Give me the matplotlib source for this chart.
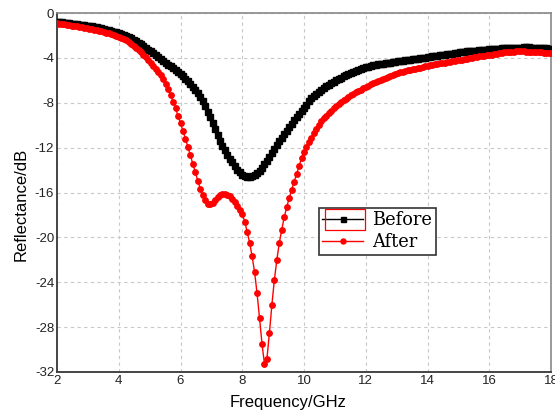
import matplotlib
matplotlib.use("Agg")
import matplotlib.pyplot as plt
from matplotlib.patches import Rectangle
import numpy as np

plt.rcParams['font.family'] = ['Liberation Sans', 'DejaVu Sans']
plt.rcParams['axes.unicode_minus'] = False

# sweep: 2-18 GHz, 201 points
freq = np.linspace(2, 18, 201)

before = [
    -0.80, -0.82, -0.84, -0.86, -0.88, -0.91, -0.94, -0.97, -1.00, -1.03,
    -1.06, -1.09, -1.12, -1.16, -1.20, -1.24, -1.28, -1.33, -1.38, -1.43,
    -1.48, -1.54, -1.60, -1.66, -1.72, -1.79, -1.87, -1.95, -2.04, -2.14,
    -2.25, -2.37, -2.50, -2.64, -2.79, -2.95, -3.10, -3.26, -3.42, -3.58,
    -3.76, -3.94, -4.12, -4.30, -4.45, -4.60, -4.76, -4.93, -5.10, -5.28,
    -5.46, -5.65, -5.85, -6.07, -6.32, -6.58, -6.86, -7.17, -7.50, -7.88,
    -8.32, -8.80, -9.30, -9.82, -10.35, -10.87, -11.37, -11.82, -12.22, -12.62,
    -12.98, -13.32, -13.65, -13.95, -14.20, -14.40, -14.53, -14.60, -14.60, -14.55,
    -14.45, -14.30, -14.08, -13.80, -13.48, -13.15, -12.80, -12.45, -12.10, -11.75,
    -11.45, -11.12, -10.80, -10.48, -10.18, -9.88, -9.58, -9.30, -9.03, -8.77,
    -8.48, -8.17, -7.88, -7.60, -7.38, -7.18, -7.00, -6.83, -6.68, -6.54,
    -6.40, -6.27, -6.14, -6.00, -5.87, -5.75, -5.64, -5.54, -5.44, -5.35,
    -5.26, -5.17, -5.08, -4.99, -4.91, -4.83, -4.77, -4.72, -4.67, -4.63,
    -4.59, -4.56, -4.52, -4.49, -4.46, -4.42, -4.39, -4.36, -4.32, -4.29,
    -4.25, -4.22, -4.18, -4.15, -4.12, -4.09, -4.06, -4.03, -4.00, -3.97,
    -3.94, -3.90, -3.86, -3.83, -3.80, -3.77, -3.74, -3.71, -3.68, -3.65,
    -3.62, -3.58, -3.55, -3.51, -3.48, -3.45, -3.43, -3.41, -3.39, -3.37,
    -3.35, -3.33, -3.31, -3.29, -3.27, -3.25, -3.23, -3.21, -3.19, -3.17,
    -3.15, -3.14, -3.13, -3.12, -3.11, -3.10, -3.09, -3.08, -3.08, -3.07,
    -3.07, -3.07, -3.08, -3.08, -3.09, -3.10, -3.11, -3.13, -3.15, -3.17,
    -3.19,
]

after = [
    -0.92, -0.95, -0.99, -1.02, -1.06, -1.09, -1.13, -1.17, -1.20, -1.24,
    -1.28, -1.32, -1.36, -1.40, -1.45, -1.50, -1.54, -1.58, -1.63, -1.68,
    -1.74, -1.80, -1.87, -1.94, -2.02, -2.11, -2.21, -2.32, -2.44, -2.58,
    -2.73, -2.90, -3.08, -3.28, -3.49, -3.71, -3.94, -4.18, -4.43, -4.69,
    -4.96, -5.25, -5.56, -5.90, -6.30, -6.78, -7.32, -7.90, -8.50, -9.15,
    -9.82, -10.50, -11.20, -11.95, -12.70, -13.45, -14.20, -14.95, -15.65, -16.25,
    -16.70, -17.00, -17.05, -16.90, -16.65, -16.42, -16.25, -16.15, -16.12, -16.18,
    -16.32, -16.55, -16.85, -17.18, -17.52, -17.90, -18.60, -19.50, -20.50, -21.70,
    -23.10, -25.00, -27.20, -29.50, -31.30, -30.80, -28.50, -26.00, -23.80, -22.00,
    -20.50, -19.30, -18.20, -17.30, -16.50, -15.75, -15.05, -14.35, -13.62, -12.95,
    -12.42, -11.95, -11.52, -11.10, -10.68, -10.30, -9.95, -9.64, -9.38, -9.14,
    -8.92, -8.70, -8.50, -8.32, -8.14, -7.96, -7.79, -7.63, -7.48, -7.34,
    -7.20, -7.07, -6.94, -6.82, -6.70, -6.59, -6.48, -6.37, -6.26, -6.16,
    -6.06, -5.96, -5.86, -5.77, -5.68, -5.59, -5.51, -5.43, -5.35, -5.28,
    -5.22, -5.16, -5.11, -5.06, -5.01, -4.96, -4.91, -4.86, -4.81, -4.76,
    -4.71, -4.66, -4.62, -4.58, -4.54, -4.50, -4.46, -4.42, -4.38, -4.34,
    -4.30, -4.27, -4.23, -4.19, -4.15, -4.11, -4.07, -4.03, -3.99, -3.95,
    -3.91, -3.87, -3.83, -3.80, -3.77, -3.74, -3.70, -3.66, -3.62, -3.58,
    -3.55, -3.52, -3.49, -3.47, -3.45, -3.44, -3.43, -3.43, -3.43, -3.43,
    -3.44, -3.44, -3.45, -3.46, -3.47, -3.49, -3.51, -3.53, -3.55, -3.57,
    -3.60,
]

x_ticks = [2, 4, 6, 8, 10, 12, 14, 16, 18]
y_ticks = [0, -4, -8, -12, -16, -20, -24, -28, -32]

fig = plt.figure(figsize=(5.55, 4.17), dpi=100)
ax = fig.add_axes([57 / 555, 45 / 417, 494 / 555, 359 / 417])

ax.plot(freq, before, color='black', marker='s', markersize=3.9,
        linewidth=1.0, label='Before', zorder=3)
ax.plot(freq, after, color='red', marker='o', markersize=3.9,
        linewidth=1.0, label='After', zorder=4)

ax.set_xlim(2, 18)
ax.set_ylim(-32, 0)
ax.set_xticks(x_ticks)
ax.set_yticks(y_ticks)
ax.tick_params(length=0, labelsize=9.5, pad=2, colors='#222222')

ax.grid(True, color='#c8c8c8', linestyle=(0, (3, 3)), linewidth=0.8)
ax.set_axisbelow(True)

for side in ['left', 'bottom']:
    ax.spines[side].set_color('#444444')
    ax.spines[side].set_linewidth(1.4)
for side in ['top', 'right']:
    ax.spines[side].set_color('#888888')
    ax.spines[side].set_linewidth(1.2)

ax.set_xlabel('Frequency/GHz', fontsize=12, va='center')
ax.xaxis.set_label_coords(0.467, -0.084)
ax.set_ylabel('Reflectance/dB', fontsize=12, va='center')
ax.yaxis.set_label_coords(-0.072, 0.468)

leg = ax.legend(loc='upper left', bbox_to_anchor=(0.530, 0.457),
                borderaxespad=0, fancybox=False, framealpha=1,
                edgecolor='#333333', handlelength=2.3, handletextpad=0.5,
                borderpad=0.2, labelspacing=0.2,
                prop={'family': 'DejaVu Serif', 'size': 12.8})
leg.get_frame().set_linewidth(1.2)
for h in leg.legend_handles:
    h.set_markersize(3.6)

# red outline around the selected legend entry
fig.patches.append(Rectangle((325 / 555, 1 - 230 / 417), 40 / 555, 21 / 417,
                             transform=fig.transFigure, fill=False,
                             edgecolor='red', linewidth=0.9, zorder=10))

fig.savefig('out.png', dpi=100)
